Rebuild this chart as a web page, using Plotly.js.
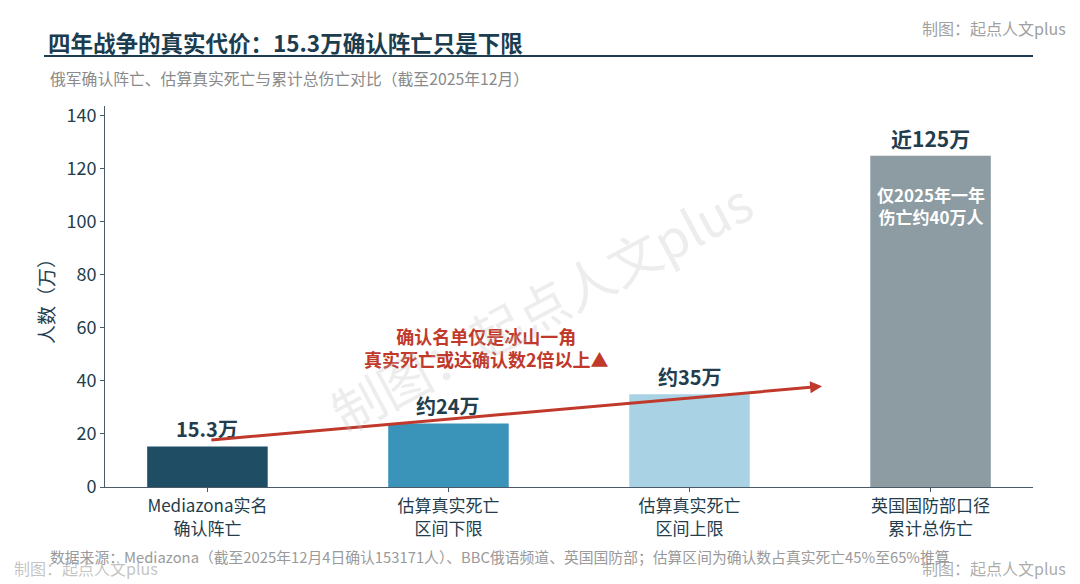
<!DOCTYPE html>
<html>
<head>
<meta charset="utf-8">
<script src="https://cdn.plot.ly/plotly-3.0.1.min.js"></script>
<style>
html,body{margin:0;padding:0;background:#fff;}
#chart{width:1080px;height:584px;}
</style>
</head>
<body>
<div id="chart"></div>
<script>
// ---- data ----
const categories = ["Mediazona实名<br>确认阵亡", "估算真实死亡<br>区间下限", "估算真实死亡<br>区间上限", "英国国防部口径<br>累计总伤亡"];
const values = [15.3, 24, 35, 125];
const valueLabels = ["15.3万", "约24万", "约35万", "近125万"];
const barColors = ["#1f4e64", "#3a93b9", "#a9d3e5", "#8d9ba3"];
const insideNote = "仅2025年一年<br>伤亡约40万人";
const yTicks = [0, 20, 40, 60, 80, 100, 120, 140];
const arrowStart = [0.01, 17.7];
const arrowEnd = [2.55, 38];
const calloutText = "确认名单仅是冰山一角<br>真实死亡或达确认数2倍以上▲";
const calloutPos = [1.158, 52.5];

const FONT = "'Noto Sans CJK SC', 'Noto Sans', sans-serif";
const dark = "#233d4d";

// plot-area geometry (px) used to place page-level texts in paper units
const PL = 105, PR = 1033, PT = 106, PB = 487;
const px = v => (v - PL) / (PR - PL);
const py = v => (PB - v) / (PB - PT);

const trace = {
  type: "bar",
  x: categories,
  y: values,
  marker: {color: barColors},
  hoverinfo: "none"
};

const annotations = [];
categories.forEach((c, i) => {
  annotations.push({
    x: i, y: values[i], xref: "x", yref: "y",
    text: "<b>" + valueLabels[i] + "</b>",
    showarrow: false, yanchor: "bottom", yshift: 1,
    font: {family: FONT, size: i === 3 ? 21 : 20, color: dark}
  });
});
annotations.push({
  x: 3, y: values[3], xref: "x", yref: "y",
  text: "<b>" + insideNote + "</b>",
  showarrow: false, yanchor: "top", yshift: -24,
  font: {family: FONT, size: 17, color: "#ffffff"}
});
// trend arrow
annotations.push({
  x: arrowEnd[0], y: arrowEnd[1], ax: arrowStart[0], ay: arrowStart[1],
  xref: "x", yref: "y", axref: "x", ayref: "y",
  text: "", showarrow: true, arrowhead: 2, arrowsize: 0.8, arrowwidth: 3,
  arrowcolor: "#c0392b", standoff: 0, startstandoff: 0
});
annotations.push({
  x: calloutPos[0], y: calloutPos[1], xref: "x", yref: "y",
  text: "<b>" + calloutText + "</b>",
  showarrow: false, align: "center",
  font: {family: FONT, size: 18, color: "#c0392b"}
});
// watermark
annotations.push({
  x: px(540), y: py(305), xref: "paper", yref: "paper",
  text: "制图：起点人文plus", showarrow: false, textangle: -28,
  font: {family: FONT, size: 52, color: "rgba(190,190,190,0.28)"}
});
// subtitle
annotations.push({
  x: px(48), y: py(78), xref: "paper", yref: "paper",
  xanchor: "left", yanchor: "middle",
  text: "俄军确认阵亡、估算真实死亡与累计总伤亡对比（截至2025年12月）", showarrow: false,
  font: {family: FONT, size: 15.8, color: "#8a8a8a"}
});
// top-right credit
annotations.push({
  x: px(1068), y: py(28), xref: "paper", yref: "paper",
  xanchor: "right", yanchor: "middle",
  text: "制图：起点人文plus", showarrow: false,
  font: {family: FONT, size: 16, color: "#a0a0a0"}
});
// footer source
annotations.push({
  x: px(48), y: py(556), xref: "paper", yref: "paper",
  xanchor: "left", yanchor: "middle",
  text: "数据来源：Mediazona（截至2025年12月4日确认153171人）、BBC俄语频道、英国国防部；估算区间为确认数占真实死亡45%至65%推算",
  showarrow: false,
  font: {family: FONT, size: 14.8, color: "#9a9a9a"}
});
// bottom credits
annotations.push({
  x: px(12), y: py(568), xref: "paper", yref: "paper",
  xanchor: "left", yanchor: "middle",
  text: "制图：起点人文plus", showarrow: false,
  font: {family: FONT, size: 16, color: "rgba(170,170,170,0.7)"}
});
annotations.push({
  x: px(1068), y: py(568), xref: "paper", yref: "paper",
  xanchor: "right", yanchor: "middle",
  text: "制图：起点人文plus", showarrow: false,
  font: {family: FONT, size: 16, color: "rgba(150,150,150,0.8)"}
});

const layout = {
  width: 1080, height: 584,
  margin: {l: PL, r: 1080 - PR, t: PT, b: 584 - PB},
  paper_bgcolor: "#ffffff", plot_bgcolor: "#ffffff",
  font: {family: FONT, color: dark},
  showlegend: false,
  bargap: 0.5,
  title: {
    text: "<b>四年战争的真实代价：15.3万确认阵亡只是下限</b>",
    x: 48/1080, xref: "container", xanchor: "left",
    y: 1 - 44/584, yref: "container", yanchor: "middle",
    font: {family: FONT, size: 22.5, color: "#1c3d4f"}
  },
  xaxis: {
    range: [-0.425, 3.425],
    showline: true, linecolor: "#4a5a66", linewidth: 1,
    ticks: "outside", ticklen: 4, tickcolor: "#4a5a66",
    showgrid: false, zeroline: false,
    tickfont: {family: FONT, size: 17, color: dark}
  },
  yaxis: {
    range: [0, 143.75],
    tickvals: yTicks,
    showline: true, linecolor: "#4a5a66", linewidth: 1,
    ticks: "outside", ticklen: 4, tickcolor: "#4a5a66",
    showgrid: false, zeroline: false,
    tickfont: {family: FONT, size: 18, color: dark},
    title: {text: "人数（万）", standoff: 6, font: {family: FONT, size: 19, color: dark}}
  },
  shapes: [{
    type: "line", xref: "paper", yref: "paper",
    x0: px(44), x1: 1.0, y0: py(56), y1: py(56),
    line: {color: "#1c3d4f", width: 2}
  }],
  annotations: annotations
};

Plotly.newPlot("chart", [trace], layout, {displayModeBar: false, staticPlot: true});
</script>
</body>
</html>
